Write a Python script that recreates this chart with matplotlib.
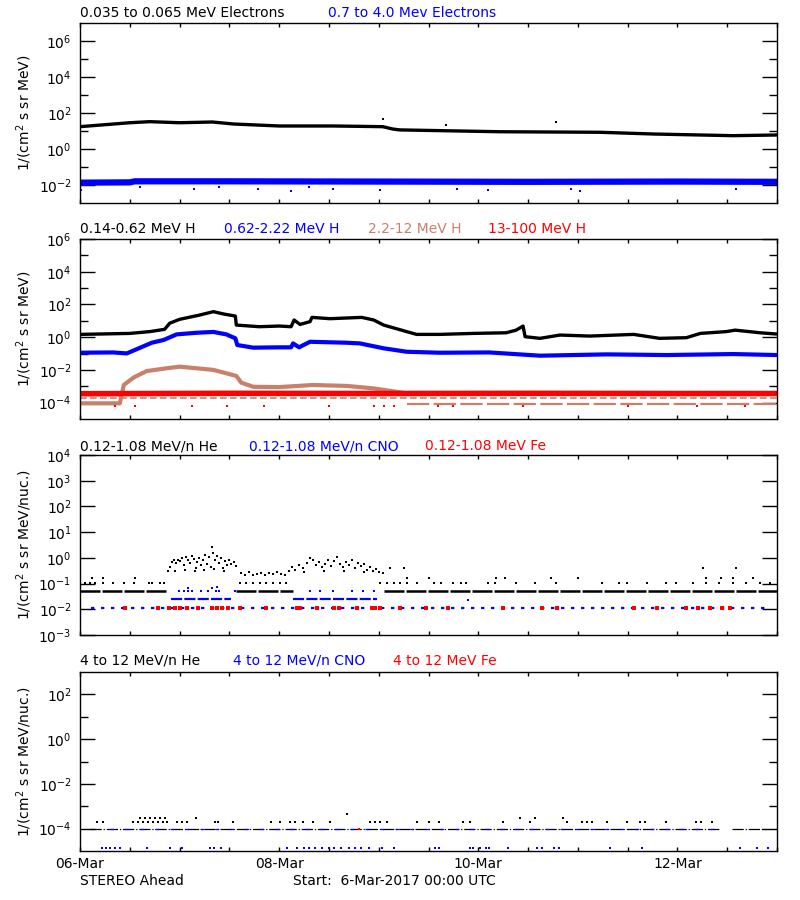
import matplotlib
matplotlib.use('Agg')
import matplotlib.pyplot as plt
import numpy as np
from matplotlib.ticker import FixedLocator, FuncFormatter, NullFormatter

BROWN = '#c8806a'

# ---- panel 1 : electrons (time in days since 06-Mar 00:00) ----
e1_t = [0, 0.5, 0.7, 1.0, 1.33, 1.54, 2.0, 2.54, 3.04, 3.14, 3.21, 4.22, 5.22, 5.76, 6.23, 6.56, 7.0]
e1_v = [17.4, 28.8, 33, 28.8, 31.6, 24.5, 19, 19, 17.4, 12.9, 11.5, 9.1, 8.5, 6.8, 6.0, 5.5, 6.0]
e1_out_t = [3.04, 3.68, 4.78]
e1_out_v = [47, 21, 30]
e2_t = [0, 0.5, 0.55, 1.5, 3.0, 4.5, 6.0, 7.0]
e2_v = [0.0135, 0.014, 0.016, 0.016, 0.0155, 0.015, 0.0155, 0.015]
e2_out_t = [0.01, 1.14, 1.79, 2.12, 2.54, 3.01, 3.79, 4.1, 4.93, 5.02, 6.59, 0.6, 1.4, 2.3]
e2_out_v = [0.005, 0.006, 0.006, 0.0045, 0.006, 0.0055, 0.006, 0.0055, 0.006, 0.0045, 0.006, 0.008, 0.008, 0.008]

# ---- panel 2 : protons ----
h1_t = [0, 0.5, 0.7, 0.85, 0.9, 1.0, 1.2, 1.34, 1.44, 1.56, 1.57, 1.8, 2.0, 2.12, 2.15, 2.21, 2.31, 2.33,
        2.51, 2.83, 2.95, 3.05, 3.28, 3.38, 3.61, 3.95, 4.28, 4.38, 4.45, 4.47, 4.62, 4.82, 5.12, 5.56,
        5.82, 6.09, 6.23, 6.49, 6.58, 6.83, 7.0]
h1_v = [1.48, 1.7, 2.19, 3.02, 7.08, 12.3, 22.4, 36.3, 26.3, 19.5, 5.5, 4.37, 4.79, 4.37, 11.2, 6.03, 8.9, 16.2,
        13.5, 16.2, 11.2, 5.5, 2.19, 1.48, 1.48, 1.7, 1.86, 2.69, 4.79, 1.07, 0.85, 1.35, 1.17, 1.48,
        0.85, 0.93, 1.7, 2.19, 2.69, 1.86, 1.55]
h2_t = [0, 0.33, 0.47, 0.59, 0.72, 0.84, 0.97, 1.17, 1.34, 1.47, 1.56, 1.58, 1.74, 2.0, 2.12, 2.14, 2.2, 2.31,
        2.68, 2.81, 3.05, 3.28, 3.61, 4.11, 4.62, 5.29, 5.89, 6.56, 7.0]
h2_v = [0.112, 0.117, 0.102, 0.209, 0.457, 0.676, 1.48, 1.86, 2.09, 1.48, 0.85, 0.331, 0.229, 0.24, 0.24, 0.417,
        0.24, 0.525, 0.457, 0.417, 0.209, 0.129, 0.112, 0.117, 0.074, 0.089, 0.081, 0.093, 0.081]
h3_t = [0, 0.4, 0.44, 0.54, 0.67, 0.87, 1.0, 1.17, 1.34, 1.47, 1.57, 1.62, 1.74, 2.0, 2.34, 2.68, 2.95, 3.28]
h3_v = [9.1e-5, 9.1e-5, 1.2e-3, 3.47e-3, 8.5e-3, 1.26e-2, 1.58e-2, 1.26e-2, 1.0e-2, 6.2e-3, 4.27e-3, 1.66e-3,
        9.3e-4, 8.9e-4, 1.2e-3, 1.05e-3, 7.4e-4, 3.7e-4]
h3_bkg_t = [3.28, 7.0]
h3_bkg_v = [8.1e-5, 8.1e-5]
h4_t = [0, 1.5, 3.0, 4.5, 6.0, 7.0]
h4_v = [3.5e-4, 3.7e-4, 3.6e-4, 3.7e-4, 3.6e-4, 3.6e-4]
h4_low_v = 1.8e-4
h4_out_t = [0.35, 0.55, 1.12, 1.48, 1.85, 2.5, 2.95, 3.05, 3.15, 3.6, 3.75, 4.45, 5.5, 6.2, 6.68]
h4_out_v = [6.3e-5, 6.5e-5, 6.3e-5, 6.3e-5, 6.5e-5, 6.3e-5, 6.3e-5, 6.5e-5, 6.3e-5, 6.3e-5, 6.5e-5, 6.3e-5,
            6.3e-5, 6.5e-5, 6.3e-5]

# ---- panel 3 : 0.12-1.08 MeV/n heavy ions ----
he_base_v = 0.052
he_base_start = [0.0, 1.57, 3.05]
he_base_end = [0.88, 2.14, 7.0]
he_r2_v = 0.105
he_r2_t = [0, 0.05, 0.1, 0.15, 0.23, 0.33, 0.44, 0.54, 0.69, 0.72, 0.80, 0.84, 1.61, 1.67, 1.74, 1.81, 1.87,
           1.94, 2.01, 2.07, 3.01, 3.08, 3.15, 3.21, 3.28, 3.38, 3.56, 3.63, 3.75, 3.83, 3.88, 4.1, 4.17, 4.38,
           4.57, 4.78, 5.24, 5.41, 5.49, 5.69, 5.89, 5.99, 6.16, 6.29, 6.42, 6.56, 6.69, 6.83, 6.93]
he_r3_v = 0.158
he_r3_t = [0.12, 0.23, 0.55, 3.28, 3.51, 4.18, 4.27, 4.73, 5.0, 6.29, 6.44, 6.56, 6.76]
he_r4_v = 0.39
he_r4_t = [3.11, 3.25, 6.26, 6.59]
he_cl_t = [0.88, 0.90, 0.92, 0.94, 0.96, 0.98, 1.00, 1.02, 1.04, 1.06, 1.08, 1.10, 1.12, 1.14, 1.16, 1.18,
           1.20, 1.22, 1.24, 1.26, 1.28, 1.30, 1.32, 1.33, 1.34, 1.36, 1.38, 1.40, 1.42, 1.44, 1.46, 1.48,
           1.50, 1.52, 1.55, 1.57, 0.95, 1.05, 1.15, 1.25, 1.35, 1.45,
           1.62, 1.66, 1.70, 1.74, 1.78, 1.82, 1.86, 1.90, 1.94, 1.98, 2.02, 2.06,
           2.10, 2.13, 2.16, 2.20, 2.24, 2.28, 2.31, 2.34, 2.37, 2.40, 2.43, 2.46, 2.49, 2.52, 2.55, 2.58,
           2.61, 2.64, 2.67, 2.70, 2.73, 2.76, 2.79, 2.82, 2.85, 2.88, 2.91, 2.94, 2.97, 3.00, 3.04,
           2.25, 2.45, 2.65, 2.85]
he_cl_v = [0.30, 0.45, 0.70, 0.80, 0.62, 0.85, 0.75, 0.95, 0.55, 1.10, 0.80, 0.65, 1.20, 0.90, 0.40, 0.70,
           1.00, 0.55, 0.85, 1.30, 0.60, 1.10, 0.45, 2.7, 1.6, 0.80, 1.20, 0.65, 0.95, 0.40, 0.75, 0.55,
           0.85, 0.60, 0.70, 0.50, 0.32, 0.35, 0.30, 0.33, 0.36, 0.30,
           0.25, 0.22, 0.27, 0.21, 0.24, 0.26, 0.22, 0.25, 0.23, 0.27, 0.24, 0.22,
           0.30, 0.45, 0.35, 0.55, 0.40, 0.65, 1.0, 0.8, 0.55, 0.70, 0.45, 0.60, 0.85, 0.50, 0.75, 1.1,
           0.60, 0.45, 0.70, 0.55, 0.85, 0.40, 0.65, 0.50, 0.60, 0.35, 0.45, 0.30, 0.38, 0.28, 0.25,
           0.28, 0.30, 0.32, 0.28]
cno_mid_v = 0.0245
cno_mid_start = [0.91, 2.14]
cno_mid_end = [1.52, 2.98]
cno_hi_t = [0.99, 1.04, 1.08, 1.12, 1.22, 1.29, 1.37, 1.40, 1.56, 2.31, 2.41, 2.54, 2.73, 2.84, 2.95, 3.9]
cno_hi_v = [0.052, 0.052, 0.052, 0.052, 0.052, 0.052, 0.052, 0.052, 0.052, 0.052, 0.052, 0.052, 0.052,
            0.052, 0.052, 0.024]
cno_top_t = [1.08, 1.33, 1.38]
cno_top_v = [0.07, 0.07, 0.075]
cno_low_v = 0.0115
cno_low_t = [0.11, 6.9]
fe_low_t = [0.45, 0.78, 0.89, 0.95, 1.0, 1.07, 1.19, 1.33, 1.38, 1.43, 1.49, 1.61, 1.87, 2.18, 2.21, 2.38, 2.55,
            2.6, 2.78, 2.93, 2.96, 3.01, 3.21, 3.47, 3.70, 4.25, 4.64, 4.79, 5.56, 5.79, 6.09, 6.21, 6.33,
            6.45, 6.53]

# ---- panel 4 : 4-12 MeV/n heavy ions ----
he4_base_v = 1e-4
he4_base_start = [0.1, 6.55]
he4_base_end = [6.42, 6.88]
he4_r2_v = 2e-4
he4_r2_t = [0.167, 0.234, 0.535, 0.586, 0.636, 0.686, 0.736, 0.786, 0.837, 0.87, 0.97, 1.02, 1.07, 1.355,
            1.39, 1.54, 1.92, 2.01, 2.11, 2.16, 2.24, 2.34, 2.51, 2.91, 2.96, 3.01, 3.08, 3.38, 3.50, 3.61,
            3.85, 3.92, 4.25, 4.52, 4.89, 5.04, 5.09, 5.14, 5.29, 5.49, 5.62, 5.67, 5.89, 6.19, 6.24, 6.35]
he4_r3_v = 3e-4
he4_r3_t = [0.60, 0.65, 0.70, 0.75, 0.80, 0.85, 1.17, 4.42, 4.57, 4.85]
he4_out_t = [2.68]
he4_out_v = [4.4e-4]
cno4_low_v = 1.3e-5
cno4_low_t = [0.22, 0.26, 0.30, 0.35, 0.40, 0.67, 0.90, 1.02, 1.31, 1.35, 1.42, 2.08, 2.18, 2.25, 2.30, 2.36,
              2.43, 2.50, 2.55, 2.62, 2.70, 2.76, 2.82, 2.90, 3.03, 3.15, 3.57, 3.61, 3.92, 3.95, 4.02,
              4.08, 4.11, 4.30, 4.59, 4.64, 4.76, 4.81, 5.32, 5.64, 6.63, 6.80, 6.91]
fe4_t = [2.80]
fe4_v = [1e-4]

xtick_pos = [0, 2, 4, 6]
xtick_lab = ['06-Mar', '08-Mar', '10-Mar', '12-Mar']

FS = 10


def dec_fmt(v, p):
    return r'10$^{%d}$' % int(round(np.log10(v)))


def setup(ax, lo, hi, major, minor):
    ax.set_yscale('log')
    ax.set_xlim(0, 7)
    ax.set_ylim(10.0 ** lo, 10.0 ** hi)
    ax.yaxis.set_major_locator(FixedLocator([10.0 ** k for k in major]))
    ax.yaxis.set_minor_locator(FixedLocator([10.0 ** k for k in minor]))
    ax.yaxis.set_major_formatter(FuncFormatter(dec_fmt))
    ax.yaxis.set_minor_formatter(NullFormatter())
    ax.tick_params(axis='y', which='major', direction='in', length=11, width=1, right=True,
                   labelsize=10, pad=6)
    ax.tick_params(axis='y', which='minor', direction='in', length=5.5, width=1, right=True)
    ax.xaxis.set_major_locator(FixedLocator(np.arange(0, 7.01, 0.5)))
    ax.xaxis.set_minor_locator(FixedLocator([]))
    ax.tick_params(axis='x', which='major', direction='in', length=3, width=1, top=True,
                   labelbottom=False)
    for s in ax.spines.values():
        s.set_linewidth(1.0)
    ax.yaxis.set_label_coords(-0.066, 0.5)


def segs(ax, starts, ends, val, **kw):
    for a, b in zip(starts, ends):
        ax.plot([a, b], [val, val], **kw)


fig = plt.figure(figsize=(8, 9), dpi=100)
L, W = 80 / 800, 697 / 800
ax1 = fig.add_axes([L, 1 - 203 / 900, W, 180 / 900])
ax2 = fig.add_axes([L, 1 - 419 / 900, W, 180 / 900])
ax3 = fig.add_axes([L, 1 - 635 / 900, W, 180 / 900])
ax4 = fig.add_axes([L, 1 - 851 / 900, W, 179 / 900])

# panel 1
setup(ax1, -3, 7, [6, 4, 2, 0, -2], [5, 3, 1, -1])
ax1.plot(e2_t, e2_v, color='blue', lw=4.5, solid_capstyle='butt')
ax1.plot(e2_out_t, e2_out_v, 's', color='blue', ms=1.8, mew=0)
ax1.plot(e1_t, e1_v, color='black', lw=2.4, solid_capstyle='butt')
ax1.plot(e1_out_t, e1_out_v, 's', color='black', ms=2, mew=0)
ax1.set_ylabel('1/(cm$^2$ s sr MeV)', fontsize=FS)

# panel 2
setup(ax2, -5, 6, [6, 4, 2, 0, -2, -4], [5, 3, 1, -1, -3])
ax2.plot([0, 7], [h4_low_v, h4_low_v], color=BROWN, lw=1.2, ls=(0, (4, 2)))
ax2.plot(h3_bkg_t, h3_bkg_v, color=BROWN, lw=1.6, ls=(0, (10, 2)))
ax2.plot(h3_t, h3_v, color=BROWN, lw=3, solid_capstyle='butt')
ax2.plot(h4_t, h4_v, color='red', lw=4, solid_capstyle='butt')
ax2.plot(h4_out_t, h4_out_v, 's', color='red', ms=1.8, mew=0)
ax2.plot(h2_t, h2_v, color='blue', lw=3, solid_capstyle='butt')
ax2.plot(h1_t, h1_v, color='black', lw=2.4, solid_capstyle='butt')
ax2.set_ylabel('1/(cm$^2$ s sr MeV)', fontsize=FS)

# panel 3
setup(ax3, -3, 4, [4, 3, 2, 1, 0, -1, -2, -3], [])
segs(ax3, he_base_start, he_base_end, he_base_v, color='black', lw=1.8, ls=(0, (8, 0.8)))
ax3.plot(he_r2_t, [he_r2_v] * len(he_r2_t), 's', color='black', ms=1.8, mew=0)
ax3.plot(he_r3_t, [he_r3_v] * len(he_r3_t), 's', color='black', ms=1.8, mew=0)
ax3.plot(he_r4_t, [he_r4_v] * len(he_r4_t), 's', color='black', ms=1.8, mew=0)
ax3.plot(he_cl_t, he_cl_v, 's', color='black', ms=2, mew=0)
segs(ax3, cno_mid_start, cno_mid_end, cno_mid_v, color='blue', lw=1.6, ls=(0, (5, 1)))
ax3.plot(cno_hi_t, cno_hi_v, 's', color='blue', ms=2, mew=0)
ax3.plot(cno_top_t, cno_top_v, 's', color='blue', ms=2, mew=0)
ax3.plot(cno_low_t, [cno_low_v] * 2, color='blue', lw=1.6, ls=(0, (1.5, 3)))
ax3.plot(fe_low_t, [cno_low_v] * len(fe_low_t), 's', color='red', ms=2.2, mew=0)
ax3.set_ylabel('1/(cm$^2$ s sr MeV/nuc.)', fontsize=FS)

# panel 4
setup(ax4, -5, 3, [2, 0, -2, -4], [1, -1, -3])
segs(ax4, he4_base_start, he4_base_end, he4_base_v, color='black', lw=0.9, ls=(0, (9, 1.5, 1, 1.5)))
ax4.plot([0.3, 6.4], [he4_base_v] * 2, color='blue', lw=0.9, ls=(0, (3, 9)))
ax4.plot(fe4_t, fe4_v, 's', color='red', ms=1.5, mew=0)
ax4.plot(he4_r2_t, [he4_r2_v] * len(he4_r2_t), 's', color='black', ms=1.6, mew=0)
ax4.plot(he4_r3_t, [he4_r3_v] * len(he4_r3_t), 's', color='black', ms=1.6, mew=0)
ax4.plot(he4_out_t, he4_out_v, 's', color='black', ms=2, mew=0)
ax4.plot(cno4_low_t, [cno4_low_v] * len(cno4_low_t), 's', color='blue', ms=1.6, mew=0)
ax4.set_ylabel('1/(cm$^2$ s sr MeV/nuc.)', fontsize=FS)
ax4.xaxis.set_major_locator(FixedLocator(np.arange(0, 7.01, 0.5)))
ax4.xaxis.set_major_formatter(FuncFormatter(
    lambda v, p: xtick_lab[xtick_pos.index(int(v))] if v in xtick_pos else ''))
ax4.tick_params(axis='x', labelbottom=True, labelsize=FS, pad=4)


def title_row(y, items):
    for x, txt, col in items:
        fig.text(x / 800, 1 - y / 900, txt, color=col, fontsize=FS, va='center', ha='left')


title_row(13, [(80, '0.035 to 0.065 MeV Electrons', 'black'),
               (328, '0.7 to 4.0 Mev Electrons', 'blue')])
title_row(229, [(80, '0.14-0.62 MeV H', 'black'), (224, '0.62-2.22 MeV H', 'blue'),
                (368, '2.2-12 MeV H', BROWN), (488, '13-100 MeV H', 'red')])
title_row(446, [(80, '0.12-1.08 MeV/n He', 'black'), (249, '0.12-1.08 MeV/n CNO', 'blue'),
                (425, '0.12-1.08 MeV Fe', 'red')])
title_row(661, [(80, '4 to 12 MeV/n He', 'black'), (233, '4 to 12 MeV/n CNO', 'blue'),
                (393, '4 to 12 MeV Fe', 'red')])
title_row(881, [(80, 'STEREO Ahead', 'black'), (293, 'Start:  6-Mar-2017 00:00 UTC', 'black')])

fig.savefig('out.png', dpi=100)
